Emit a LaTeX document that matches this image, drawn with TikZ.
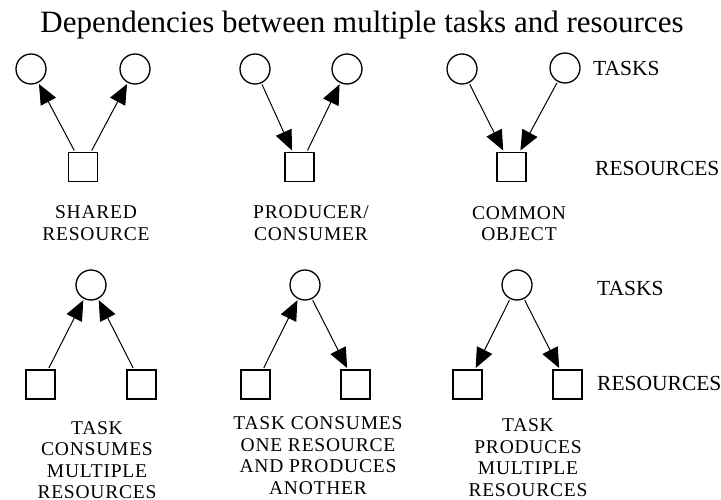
\documentclass[tikz,border=0pt]{standalone}
\usepackage{fontspec}
\setmainfont{Liberation Serif}
\newfontfamily\capfont[LetterSpace=4]{Liberation Serif}
\usetikzlibrary{arrows.meta}
\begin{document}
\begin{tikzpicture}[x=1pt,y=-1pt,
  task/.style={circle,draw,line width=1.3pt,minimum size=30pt,inner sep=0pt,outer sep=2pt},
  res/.style={rectangle,draw,line width=1.3pt,minimum size=29pt,inner sep=0pt,outer sep=2pt},
  dep/.style={line width=1pt,-{Triangle[length=20pt,width=17pt]}},
  caption/.style={align=center,anchor=north,inner sep=0pt,font=\capfont\fontsize{19.5}{21.5}\selectfont},
  rowlabel/.style={anchor=west,inner sep=0pt,font=\fontsize{21.5}{24}\selectfont}]
\useasboundingbox (0,0) rectangle (721,500);

% title
\node[anchor=base,inner sep=0pt,font=\fontsize{31}{36}\selectfont] (title) at (362,33)
  {Dependencies between multiple tasks and resources};

% ---- top row ----
% shared resource
\node[task] (a1) at (31,69) {};
\node[task] (a2) at (135,69) {};
\node[res]  (ar) at (83,167) {};
\draw[dep] (ar) -- (a1);
\draw[dep] (ar) -- (a2);
\node[caption] (acap) at (96,205.5) {SHARED\\RESOURCE};

% producer / consumer
\node[task] (b1) at (255,69) {};
\node[task] (b2) at (347,69) {};
\node[res]  (br) at (299.5,167) {};
\draw[dep] (b1) -- (br);
\draw[dep] (br) -- (b2);
\node[caption] (bcap) at (311,205.5) {PRODUCER/\\CONSUMER};

% common object
\node[task] (c1) at (462,69) {};
\node[task] (c2) at (565,68) {};
\node[res]  (cr) at (511.5,167) {};
\draw[dep] (c1) -- (cr);
\draw[dep] (c2) -- (cr);
\node[caption] (ccap) at (519,206) {COMMON\\OBJECT};

\node[rowlabel] (tasks1) at (593,68) {TASKS};
\node[rowlabel] (res1) at (595,168) {RESOURCES};

% ---- bottom row ----
% task consumes multiple resources
\node[task] (d0) at (91,285) {};
\node[res]  (d1) at (40.5,384.5) {};
\node[res]  (d2) at (141.5,384.5) {};
\draw[dep] (d1) -- (d0);
\draw[dep] (d2) -- (d0);
\node[caption] (dcap) at (97,421) {TASK\\CONSUMES\\MULTIPLE\\RESOURCES};

% task consumes one resource and produces another
\node[task] (e0) at (305,285) {};
\node[res]  (e1) at (255.5,384.5) {};
\node[res]  (e2) at (355.5,384.5) {};
\draw[dep] (e1) -- (e0);
\draw[dep] (e0) -- (e2);
\node[caption] (ecap) at (318,416.5) {TASK CONSUMES\\ONE RESOURCE\\AND PRODUCES\\ANOTHER};

% task produces multiple resources
\node[task] (f0) at (517,285) {};
\node[res]  (f1) at (467.5,384.5) {};
\node[res]  (f2) at (567.5,384.5) {};
\draw[dep] (f0) -- (f1);
\draw[dep] (f0) -- (f2);
\node[caption] (fcap) at (528,418.5) {TASK\\PRODUCES\\MULTIPLE\\RESOURCES};

\node[rowlabel] (tasks2) at (597,288) {TASKS};
\node[rowlabel] (res2) at (597,383) {RESOURCES};
\end{tikzpicture}
\end{document}
